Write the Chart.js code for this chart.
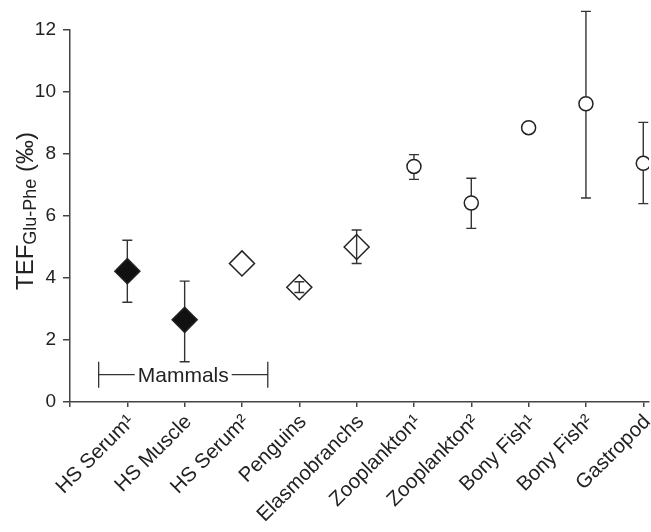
<!DOCTYPE html>
<html>
<head>
<meta charset="utf-8">
<script src="https://cdn.jsdelivr.net/npm/chart.js@4.4.0/dist/chart.umd.min.js"></script>
<style>
  html, body { margin: 0; padding: 0; background: #fff; }
  #wrap { width: 651px; height: 532px; }
</style>
</head>
<body>
<div id="wrap"><canvas id="tefChart"></canvas></div>
<script>
// values
const categories = ['HS Serum¹', 'HS Muscle', 'HS Serum²', 'Penguins', 'Elasmobranchs',
                    'Zooplankton¹', 'Zooplankton²', 'Bony Fish¹', 'Bony Fish²', 'Gastropod'];
const tefValues = [4.22, 2.65, 4.47, 3.70, 5.00, 7.60, 6.42, 8.85, 9.62, 7.70];
const errorHigh = [5.22, 3.90, null, 3.88, 5.55, 7.98, 7.22, null, 12.6, 9.02];
const errorLow  = [3.22, 1.30, null, 3.53, 4.47, 7.18, 5.60, null, 6.58, 6.40];
const markerType = ['filled', 'filled', 'open', 'open', 'open',
                    'circle', 'circle', 'circle', 'circle', 'circle'];
const yTicks = [0, 2, 4, 6, 8, 10, 12];
const mammalsGroup = { label: 'Mammals', from: 0.5, to: 3.45, y: 0.88 };

const FONT = "'Liberation Sans', Arial, Helvetica, sans-serif";
const INK = '#222';

// rotated labels make chart.js keep a gap on the right; give it back to the plot
const stretchRight = {
    id: 'stretchRight',
    afterLayout(chart) {
        const d = chart.width - 2 - chart.chartArea.right;
        if (d <= 0) return;
        chart.chartArea.right += d;
        chart.chartArea.width += d;
        const xs = chart.scales.x;
        xs.right += d;
        xs.width += d;
        xs.configure();
    }
};

const errorBars = {
    id: 'errorBars',
    beforeDatasetsDraw(chart) {
        const ctx = chart.ctx;
        const xs = chart.scales.x, ys = chart.scales.y;
        ctx.save();
        ctx.strokeStyle = '#333';
        ctx.lineWidth = 1.4;
        tefValues.forEach((v, i) => {
            if (errorHigh[i] == null) return;
            const x = xs.getPixelForValue(i + 1);
            const top = ys.getPixelForValue(errorHigh[i]);
            const bot = ys.getPixelForValue(errorLow[i]);
            ctx.beginPath();
            ctx.moveTo(x, top); ctx.lineTo(x, bot);
            ctx.moveTo(x - 5, top); ctx.lineTo(x + 5, top);
            ctx.moveTo(x - 5, bot); ctx.lineTo(x + 5, bot);
            ctx.stroke();
        });
        ctx.restore();
    }
};

const extras = {
    id: 'extras',
    afterDraw(chart) {
        const ctx = chart.ctx;
        const xs = chart.scales.x, ys = chart.scales.y;

        // mammals bracket
        const x1 = xs.getPixelForValue(mammalsGroup.from);
        const x2 = xs.getPixelForValue(mammalsGroup.to);
        const y = ys.getPixelForValue(mammalsGroup.y);
        ctx.save();
        ctx.font = '21px ' + FONT;
        ctx.fillStyle = INK;
        ctx.strokeStyle = '#333';
        ctx.lineWidth = 1.3;
        const mid = (x1 + x2) / 2;
        const half = ctx.measureText(mammalsGroup.label).width / 2 + 3;
        ctx.beginPath();
        ctx.moveTo(x1, y); ctx.lineTo(mid - half, y);
        ctx.moveTo(mid + half, y); ctx.lineTo(x2, y);
        ctx.moveTo(x1, y - 13); ctx.lineTo(x1, y + 13);
        ctx.moveTo(x2, y - 13); ctx.lineTo(x2, y + 13);
        ctx.stroke();
        ctx.textAlign = 'center';
        ctx.textBaseline = 'middle';
        ctx.fillText(mammalsGroup.label, mid, y + 1);
        ctx.restore();

        // y axis title with subscript
        const parts = [
            { t: 'TEF', f: '24px ', dy: 0 },
            { t: 'Glu-Phe', f: '18px ', dy: 3 },
            { t: ' (‰)', f: '24px ', dy: 0 }
        ];
        ctx.save();
        let total = 0;
        parts.forEach(p => { ctx.font = p.f + FONT; p.w = ctx.measureText(p.t).width; total += p.w; });
        ctx.translate(33, (ys.top + ys.bottom) / 2 - 5);
        ctx.rotate(-Math.PI / 2);
        ctx.fillStyle = INK;
        ctx.textBaseline = 'alphabetic';
        let cx = -total / 2;
        parts.forEach(p => {
            ctx.font = p.f + FONT;
            ctx.fillText(p.t, cx, p.dy);
            cx += p.w;
        });
        ctx.restore();
    }
};

document.addEventListener('DOMContentLoaded', function() {
    const ctx = document.getElementById('tefChart').getContext('2d');
    const points = tefValues.map((v, i) => ({ x: i + 1, y: v }));

    new Chart(ctx, {
        type: 'scatter',
        data: {
            datasets: [{
                data: points,
                pointStyle: c => markerType[c.dataIndex] === 'circle' ? 'circle' : 'rectRot',
                pointRadius: c => markerType[c.dataIndex] === 'circle' ? 7 : 12.5,
                pointHoverRadius: c => markerType[c.dataIndex] === 'circle' ? 7 : 12.5,
                backgroundColor: c => {
                    const k = markerType[c.dataIndex];
                    return k === 'filled' ? '#111' : (k === 'circle' ? '#fff' : 'rgba(0,0,0,0)');
                },
                borderColor: INK,
                borderWidth: 1.5
            }]
        },
        options: {
            responsive: true,
            maintainAspectRatio: false,
            animation: false,
            layout: { padding: { top: 30, right: 2, left: 0, bottom: 0 } },
            plugins: {
                legend: { display: false },
                tooltip: { enabled: false }
            },
            scales: {
                x: {
                    type: 'linear',
                    min: 0,
                    max: 10.1,
                    afterBuildTicks: scale => {
                        scale.ticks = [0].concat(categories.map((c, i) => i + 1)).map(v => ({ value: v }));
                    },
                    afterFit: scale => { scale.height = 130; },
                    grid: { display: true, drawOnChartArea: false, tickLength: 5, color: '#444', lineWidth: 1.5 },
                    border: { color: '#444', width: 1.5 },
                    ticks: {
                        autoSkip: false,
                        maxRotation: 45,
                        minRotation: 45,
                        color: INK,
                        padding: 3,
                        labelOffset: 4,
                        font: { family: FONT, size: 20.5 },
                        callback: v => categories[v - 1] || ''
                    }
                },
                y: {
                    min: 0,
                    max: 12,
                    afterBuildTicks: scale => { scale.ticks = yTicks.map(v => ({ value: v })); },
                    afterFit: scale => { scale.width = 70; },
                    grid: { display: true, drawOnChartArea: false, tickLength: 7, color: '#444', lineWidth: 1.5 },
                    border: { color: '#444', width: 1.5 },
                    ticks: {
                        color: INK,
                        padding: 7,
                        font: { family: FONT, size: 19 }
                    }
                }
            }
        },
        plugins: [stretchRight, errorBars, extras]
    });
});
</script>
</body>
</html>
